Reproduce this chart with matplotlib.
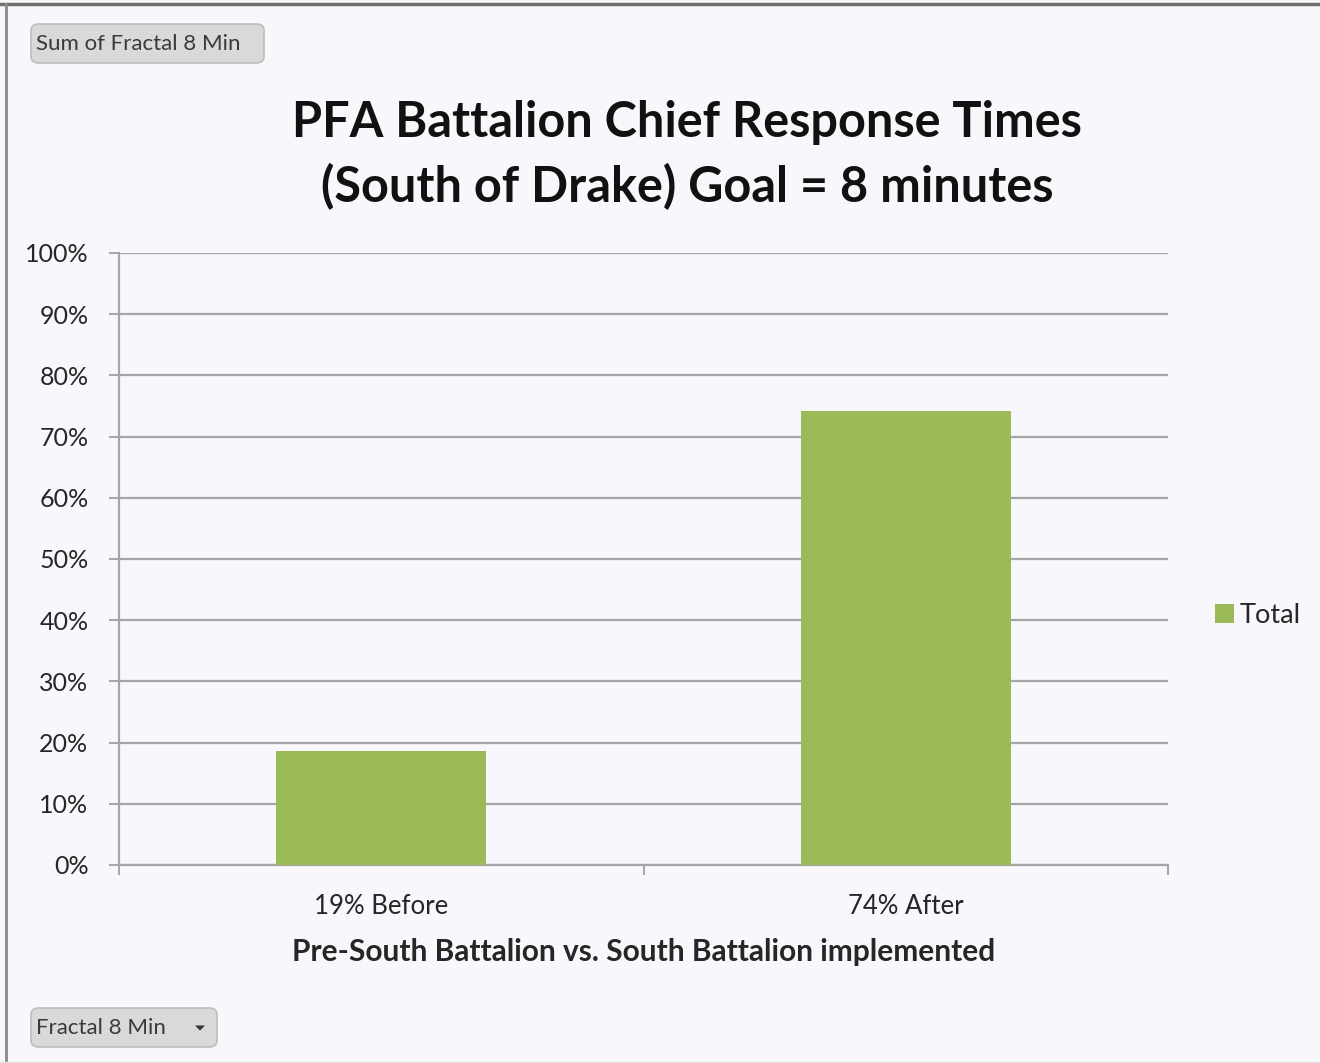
import matplotlib
matplotlib.use("Agg")
import matplotlib.pyplot as plt
from matplotlib.patches import FancyBboxPatch, Polygon
from matplotlib.ticker import FixedLocator, PercentFormatter

# Chart data
categories = ["19% Before", "74% After"]
values = [18.6, 74.2]          # percent of responses within 8 minutes
series_name = "Total"
y_ticks = [0, 10, 20, 30, 40, 50, 60, 70, 80, 90, 100]

title_text = "PFA Battalion Chief Response Times\n(South of Drake) Goal = 8 minutes"
xlabel_text = "Pre-South Battalion vs. South Battalion implemented"
field_button = "Sum of Fractal 8 Min"
axis_button = "Fractal 8 Min"

BG = "#F8F8FC"
GREEN = "#9BBB59"
GRID = "#A6A6A6"
TXT = "#262626"
FONT = "Lato"

W, H = 1320, 1063
fig = plt.figure(figsize=(W / 100, H / 100), dpi=100, facecolor=BG)


def fx(px):
    return px / W


def fy(py):
    return 1 - py / H


ax = fig.add_axes([fx(119), fy(865), fx(1168) - fx(119), fy(253) - fy(865)])
ax.set_facecolor(BG)

x = list(range(len(categories)))
ax.bar(x, values, width=0.4, color=GREEN, label=series_name, zorder=3)

ax.set_xlim(-0.5, len(categories) - 0.5)
ax.set_ylim(0, 100)
ax.yaxis.set_major_locator(FixedLocator(y_ticks))
ax.yaxis.set_major_formatter(PercentFormatter(decimals=0))
ax.grid(axis="y", color=GRID, linewidth=1.6, zorder=0)

ax.set_xticks(x)
ax.set_xticklabels(categories)
ax.xaxis.set_minor_locator(FixedLocator([-0.5 + i for i in range(len(categories) + 1)]))
ax.tick_params(axis="x", which="major", length=0, pad=21, labelsize=18.5, labelcolor=TXT)
ax.tick_params(axis="x", which="minor", length=7, width=1.4, color=GRID)
ax.tick_params(axis="y", length=7, width=1.4, color=GRID, pad=15, labelsize=18, labelcolor=TXT)
for lab in ax.get_xticklabels() + ax.get_yticklabels():
    lab.set_fontfamily(FONT)

for side in ("top", "right"):
    ax.spines[side].set_visible(False)
for side in ("left", "bottom"):
    ax.spines[side].set_color(GRID)
    ax.spines[side].set_linewidth(1.6)

ax.set_xlabel(xlabel_text, fontsize=21.5, fontweight="bold", family=FONT, color=TXT, labelpad=13.5)

fig.text(fx(687), fy(155), title_text, ha="center", va="center", fontsize=35,
         fontweight="bold", family=FONT, color="#111111", linespacing=1.45)

ax.legend(loc="center left", bbox_to_anchor=((1191 - 119) / (1168 - 119), 0.408),
          frameon=False, prop={"family": FONT, "size": 19.5},
          handlelength=0.7, handleheight=0.7, handletextpad=0.2, labelcolor=TXT)

# Window frame
fig.add_artist(plt.Line2D([0, 1], [fy(4), fy(4)], color="#6E6E6E", linewidth=2.5, transform=fig.transFigure))
fig.add_artist(plt.Line2D([fx(6), fx(6)], [0, fy(4)], color="#8A8A8A", linewidth=2, transform=fig.transFigure))
fig.add_artist(plt.Line2D([0, 1], [fy(1062), fy(1062)], color="#E0E0E0", linewidth=1, transform=fig.transFigure))


def button(x0, y0, x1, y1, label, arrow=False):
    box = FancyBboxPatch((fx(x0), fy(y1)), fx(x1) - fx(x0), fy(y0) - fy(y1),
                         boxstyle="round,pad=0,rounding_size=0.006",
                         transform=fig.transFigure, facecolor="#D9D9D9",
                         edgecolor="#BDBDBD", linewidth=1.2)
    fig.add_artist(box)
    fig.text(fx(x0 + 5), fy((y0 + y1) / 2 + 1), label, ha="left", va="center",
             fontsize=16, family=FONT, color="#3A3A3A")
    if arrow:
        cx, cy = x1 - 17, (y0 + y1) / 2
        tri = Polygon([(fx(cx - 5), fy(cy - 2)), (fx(cx + 5), fy(cy - 2)), (fx(cx), fy(cy + 3))],
                      closed=True, transform=fig.transFigure, facecolor="#333333", edgecolor="none")
        fig.add_artist(tri)


button(31, 24, 264, 63, field_button)
button(31, 1008, 217, 1047, axis_button, arrow=True)

fig.savefig("out.png", dpi=100, facecolor=BG)
